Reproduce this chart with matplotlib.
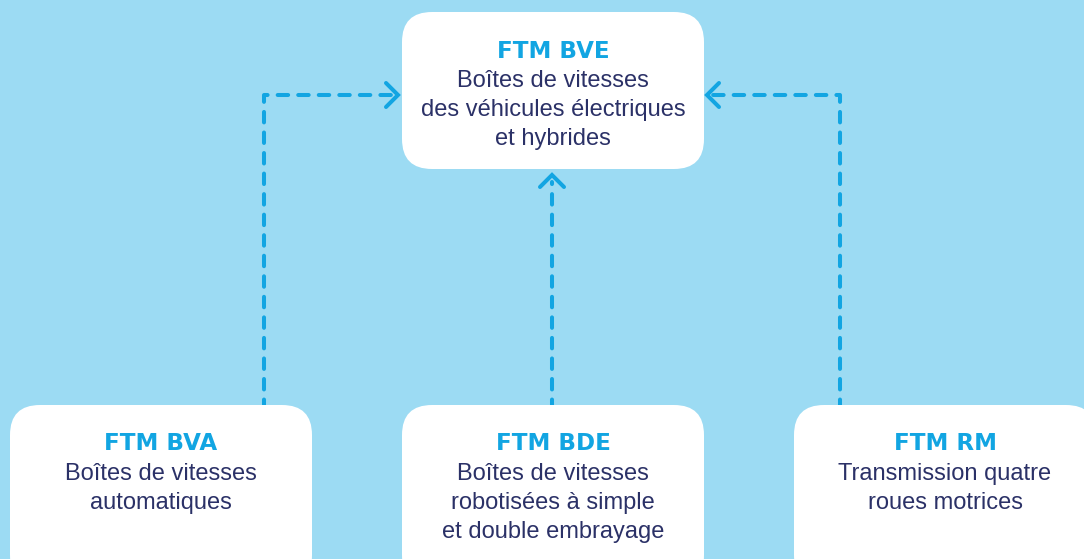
import matplotlib.pyplot as plt
from matplotlib.patches import FancyBboxPatch

# ------------------------------------------------------
# Data: boxes (title + description)
# ------------------------------------------------------
titles = ["FTM BVE", "FTM BVA", "FTM BDE", "FTM RM"]
descriptions = [
    "Boîtes de vitesses\ndes véhicules électriques\net hybrides",
    "Boîtes de vitesses\nautomatiques",
    "Boîtes de vitesses\nrobotisées à simple\net double embrayage",
    "Transmission quatre\nroues motrices",
]

# ------------------------------------------------------
# Layout (pixels, origin top-left)
# ------------------------------------------------------
W, H = 1084, 559
box_x = [402, 10, 402, 794]
box_y = [12, 405, 405, 405]
box_w = [302, 302, 302, 302]
box_h = [157, 180, 180, 180]
radius = 30

bg = "#9cdbf3"
cyan = "#12a5e2"
navy = "#2b3167"

fig = plt.figure(figsize=(W / 100, H / 100), dpi=100)
fig.patch.set_facecolor(bg)
ax = fig.add_axes([0, 0, 1, 1])
ax.set_xlim(0, W)
ax.set_ylim(H, 0)
ax.axis("off")
ax.set_facecolor(bg)

# boxes + text
for i in range(len(titles)):
    x, y, w, h = box_x[i], box_y[i], box_w[i], box_h[i]
    box = FancyBboxPatch((x + radius, y + radius), w - 2 * radius, h - 2 * radius,
                         boxstyle=f"round,pad={radius},rounding_size={radius}",
                         fc="white", ec="none", zorder=2)
    ax.add_patch(box)
    cx = x + w / 2
    ax.text(cx, y + 39, titles[i], ha="center", va="center", color=cyan,
            fontsize=16.6, fontweight="bold", family="DejaVu Sans", zorder=3)
    for j, line in enumerate(descriptions[i].split("\n")):
        ax.text(cx, y + 69 + 29 * j, line, ha="center", va="center", color=navy,
                fontsize=17, family="Liberation Sans", zorder=3)

# dashed connectors
dash = dict(color=cyan, lw=2.9, linestyle=(0, (2.6, 2.5)),
            dash_capstyle="round", zorder=1)
ax.plot([264, 264, 396], [410, 95, 95], **dash)
ax.plot([552, 552], [410, 182], **dash)
ax.plot([840, 840, 710], [410, 95, 95], **dash)

# open chevron arrow heads
arm = 12
head = dict(color=cyan, lw=2.9, solid_capstyle="round", solid_joinstyle="miter", zorder=3)
ax.plot([398 - arm, 398, 398 - arm], [95 - arm, 95, 95 + arm], **head)
ax.plot([707 + arm, 707, 707 + arm], [95 - arm, 95, 95 + arm], **head)
ax.plot([552 - arm, 552, 552 + arm], [175 + arm, 175, 175 + arm], **head)

fig.savefig("out.png", dpi=100, facecolor=bg)
